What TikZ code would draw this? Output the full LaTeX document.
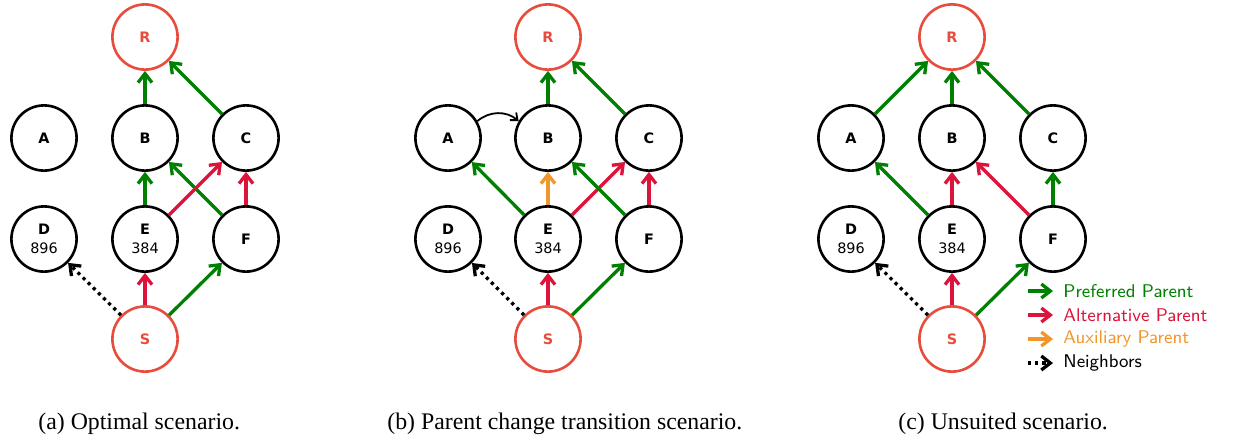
\documentclass[tikz,border=0pt]{standalone}
\usepackage{fontspec}
\setmainfont{Liberation Serif}
\newfontfamily\motefont{DejaVu Sans}
\usetikzlibrary{arrows.meta}

\definecolor{rootred}{HTML}{E74C3C}
\definecolor{prefgreen}{HTML}{008000}
\definecolor{altred}{HTML}{DC143C}
\definecolor{auxorange}{HTML}{F0962A}

\tikzset{
	mote/.style={circle, draw, line width=1.3pt, minimum size=32.6pt, inner sep=0pt, align=center, font=\motefont\fontsize{7.2}{9.5}\selectfont},
	sink/.style={mote, draw=rootred, text=rootred},
	link/.style={line width=1.65pt, -{Straight Barb[length=4.5pt, width=7pt]}},
	pref/.style={link, prefgreen},
	alt/.style={link, altred},
	aux/.style={link, auxorange},
	nbr/.style={link, black, dash pattern=on 1.6pt off 2pt},
	hop/.style={line width=0.9pt, -{Straight Barb[length=3pt, width=5pt]}},
	legtext/.style={anchor=west, inner sep=0pt, font=\sffamily\fontsize{9.2}{11}\selectfont},
	subcap/.style={anchor=base west, inner sep=0pt, font=\fontsize{11.9}{14}\selectfont}
}

\begin{document}
\begin{tikzpicture}[x=0.5pt, y=-0.5pt]
\useasboundingbox (0, 0) rectangle (1235, 441);

% (a) optimal
\node[sink] (aR) at (145, 37) {\textbf{R}};

\node[mote] (aA) at (44, 138) {\textbf{A}};
\node[mote] (aB) at (145, 138) {\textbf{B}};
\node[mote] (aC) at (246, 138) {\textbf{C}};

\node[mote] (aD) at (44, 239) {\textbf{D}\\896};
\node[mote] (aE) at (145, 239) {\textbf{E}\\384};
\node[mote] (aF) at (246, 239) {\textbf{F}};

\node[sink] (aS) at (145, 339) {\textbf{S}};

\draw[pref] (aB) -- (aR);
\draw[pref] (aC) -- (aR);
\draw[pref] (aE) -- (aB);
\draw[pref] (aF) -- (aB);
\draw[alt] (aE) -- (aC);
\draw[alt] (aF) -- (aC);
\draw[alt] (aS) -- (aE);
\draw[pref] (aS) -- (aF);
\draw[nbr] (aS) -- (aD);

% (b) parent change
\node[sink] (bR) at (548, 37) {\textbf{R}};

\node[mote] (bA) at (448, 138) {\textbf{A}};
\node[mote] (bB) at (548, 138) {\textbf{B}};
\node[mote] (bC) at (649, 138) {\textbf{C}};

\node[mote] (bD) at (448, 239) {\textbf{D}\\896};
\node[mote] (bE) at (548, 239) {\textbf{E}\\384};
\node[mote] (bF) at (649, 239) {\textbf{F}};

\node[sink] (bS) at (548, 339) {\textbf{S}};

\draw[pref] (bB) -- (bR);
\draw[pref] (bC) -- (bR);
\draw[hop] (bA.30) to[bend left=40] (bB.150);
\draw[pref] (bE) -- (bA);
\draw[aux] (bE) -- (bB);
\draw[alt] (bE) -- (bC);
\draw[pref] (bF) -- (bB);
\draw[alt] (bF) -- (bC);
\draw[alt] (bS) -- (bE);
\draw[pref] (bS) -- (bF);
\draw[nbr] (bS) -- (bD);

% (c) unsuited
\node[sink] (cR) at (952, 37) {\textbf{R}};

\node[mote] (cA) at (851, 138) {\textbf{A}};
\node[mote] (cB) at (952, 138) {\textbf{B}};
\node[mote] (cC) at (1053, 138) {\textbf{C}};

\node[mote] (cD) at (851, 239) {\textbf{D}\\896};
\node[mote] (cE) at (952, 239) {\textbf{E}\\384};
\node[mote] (cF) at (1053, 239) {\textbf{F}};

\node[sink] (cS) at (952, 339) {\textbf{S}};

\draw[pref] (cA) -- (cR);
\draw[pref] (cB) -- (cR);
\draw[pref] (cC) -- (cR);
\draw[pref] (cE) -- (cA);
\draw[alt] (cE) -- (cB);
\draw[alt] (cF) -- (cB);
\draw[pref] (cF) -- (cC);
\draw[alt] (cS) -- (cE);
\draw[pref] (cS) -- (cF);
\draw[nbr] (cS) -- (cD);

% legend
\coordinate (k1s) at (1028, 291);
\coordinate (k1e) at (1053, 291);
\coordinate (k2s) at (1028, 315);
\coordinate (k2e) at (1053, 315);
\coordinate (k3s) at (1028, 339);
\coordinate (k3e) at (1053, 339);
\coordinate (k4s) at (1028, 363);
\coordinate (k4e) at (1053, 363);

\draw[pref] (k1s) -- (k1e);
\draw[alt] (k2s) -- (k2e);
\draw[aux] (k3s) -- (k3e);
\draw[nbr] (k4s) -- (k4e);

\node[legtext, text=prefgreen] (k1) at (1063, 291) {Preferred Parent};
\node[legtext, text=altred] (k2) at (1063, 315) {Alternative Parent};
\node[legtext, text=auxorange] (k3) at (1063, 339) {Auxiliary Parent};
\node[legtext] (k4) at (1063, 363) {Neighbors};

% captions
\node[subcap] (capa) at (38, 429) {(a) Optimal scenario.};
\node[subcap] (capb) at (387, 429) {(b) Parent change transition scenario.};
\node[subcap] (capc) at (898, 429) {(c) Unsuited scenario.};
\end{tikzpicture}
\end{document}
